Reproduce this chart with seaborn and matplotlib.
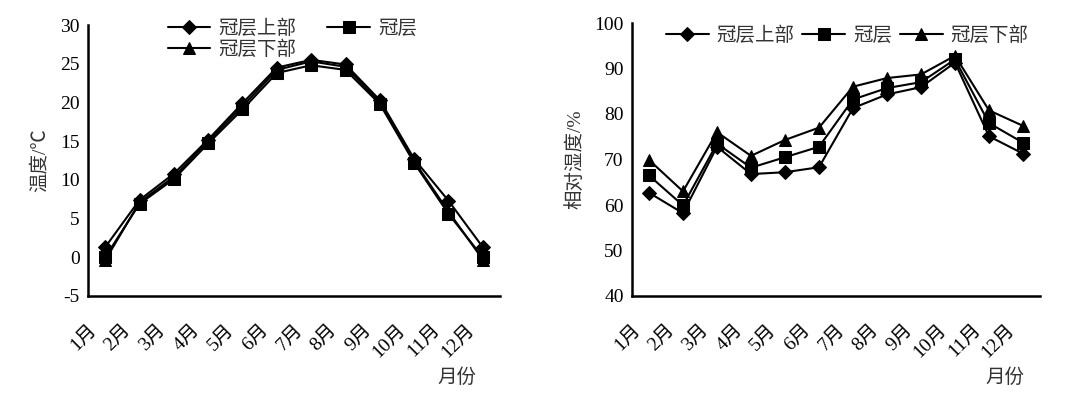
import matplotlib
matplotlib.use("Agg")
import matplotlib.pyplot as plt
import seaborn as sns
import pandas as pd
import numpy as np

months = ["1月", "2月", "3月", "4月", "5月", "6月", "7月", "8月", "9月", "10月", "11月", "12月"]
series_names = ["冠层上部", "冠层", "冠层下部"]

temp_upper = [1.3, 7.4, 10.8, 15.2, 19.9, 24.5, 25.5, 24.9, 20.3, 12.7, 7.3, 1.3]
temp_canopy = [0.0, 6.9, 10.1, 14.7, 19.1, 23.8, 24.8, 24.2, 19.8, 12.2, 5.6, 0.0]
temp_lower = [-0.4, 7.1, 10.4, 15.0, 19.5, 24.2, 25.3, 24.6, 20.0, 12.4, 5.9, -0.3]

rh_upper = [62.7, 58.2, 72.8, 66.8, 67.2, 68.3, 81.3, 84.3, 85.9, 91.3, 75.1, 71.3]
rh_canopy = [66.5, 59.9, 73.5, 68.2, 70.5, 72.8, 83.2, 85.7, 87.0, 92.0, 78.0, 73.7]
rh_lower = [69.9, 63.0, 76.0, 70.8, 74.3, 77.0, 86.0, 87.9, 88.7, 92.8, 80.8, 77.4]

temp_ticks = [-5, 0, 5, 10, 15, 20, 25, 30]
rh_ticks = [40, 50, 60, 70, 80, 90, 100]

sns.set_theme(style="white")
plt.rcParams['font.family'] = ['Liberation Serif', 'Noto Sans CJK SC', 'DejaVu Sans']
plt.rcParams['axes.unicode_minus'] = False

fig = plt.figure(figsize=(10.86, 3.99), dpi=100)
ax1 = fig.add_axes([88/1086, 1-296/399, (500-88)/1086, (296-25)/399])
ax2 = fig.add_axes([632/1086, 1-296/399, (1040-632)/1086, (296-23)/399])

markers = {"冠层上部": "D", "冠层": "s", "冠层下部": "^"}
msizes = {"冠层上部": 7, "冠层": 9, "冠层下部": 9}

def make_df(vals):
    rows = []
    for name, v in zip(series_names, vals):
        for i, y in enumerate(v):
            rows.append({"x": i, "y": y, "series": name})
    return pd.DataFrame(rows)

df_t = make_df([temp_upper, temp_canopy, temp_lower])
df_h = make_df([rh_upper, rh_canopy, rh_lower])

fs = 14

def draw(ax, df, ticks, ylabel, lpad):
    for name in series_names:
        sub = df[df["series"] == name]
        sns.lineplot(data=sub, x="x", y="y", ax=ax, color="black", lw=1.5,
                     marker=markers[name], markersize=msizes[name],
                     markeredgecolor="black", markerfacecolor="black", label=name)
    ax.set_xlim(-0.5, 11.5)
    ax.set_ylim(ticks[0], ticks[-1])
    ax.set_yticks(ticks)
    ax.set_yticklabels([str(t) for t in ticks], fontsize=fs)
    ax.set_xticks(np.arange(-0.5, 12, 1.0))
    ax.set_xticklabels(months + [""], rotation=45, ha="right", va="top",
                       rotation_mode="anchor", fontsize=fs)
    ax.tick_params(axis="both", direction="in", length=7, width=1.8, color="black",
                   labelcolor="black")
    ax.tick_params(axis="y", pad=6)
    ax.tick_params(axis="x", pad=18)
    for s in ["top", "right"]:
        ax.spines[s].set_visible(False)
    for s in ["left", "bottom"]:
        ax.spines[s].set_color("black")
        ax.spines[s].set_linewidth(1.8)
    ax.set_xlabel("")
    ax.set_ylabel(ylabel, fontsize=fs, color="#333333", labelpad=lpad)
    ax.grid(False)

draw(ax1, df_t, temp_ticks, "温度/℃", 8)
draw(ax2, df_h, rh_ticks, "相对湿度/%", 7)

# legends
h1, l1 = ax1.get_legend_handles_labels()
order = [0, 2, 1]
ax1.legend([h1[i] for i in order], [l1[i] for i in order], ncol=2, frameon=False,
           loc="upper left", bbox_to_anchor=(0.165, 1.065), fontsize=fs,
           handlelength=2.2, handletextpad=0.4, columnspacing=1.6,
           labelspacing=0.15, borderpad=0.1, labelcolor="#333333")
h2, l2 = ax2.get_legend_handles_labels()
ax2.legend(h2, l2, ncol=3, frameon=False, loc="upper left",
           bbox_to_anchor=(0.055, 1.03), fontsize=fs,
           handlelength=2.2, handletextpad=0.4, columnspacing=0.4,
           borderpad=0.1, labelcolor="#333333")

fig.text(457/1086, 1-378/399, "月份", fontsize=fs, ha="center", va="center", color="#333333")
fig.text(1005/1086, 1-378/399, "月份", fontsize=fs, ha="center", va="center", color="#333333")

fig.savefig("out.png", dpi=100)
